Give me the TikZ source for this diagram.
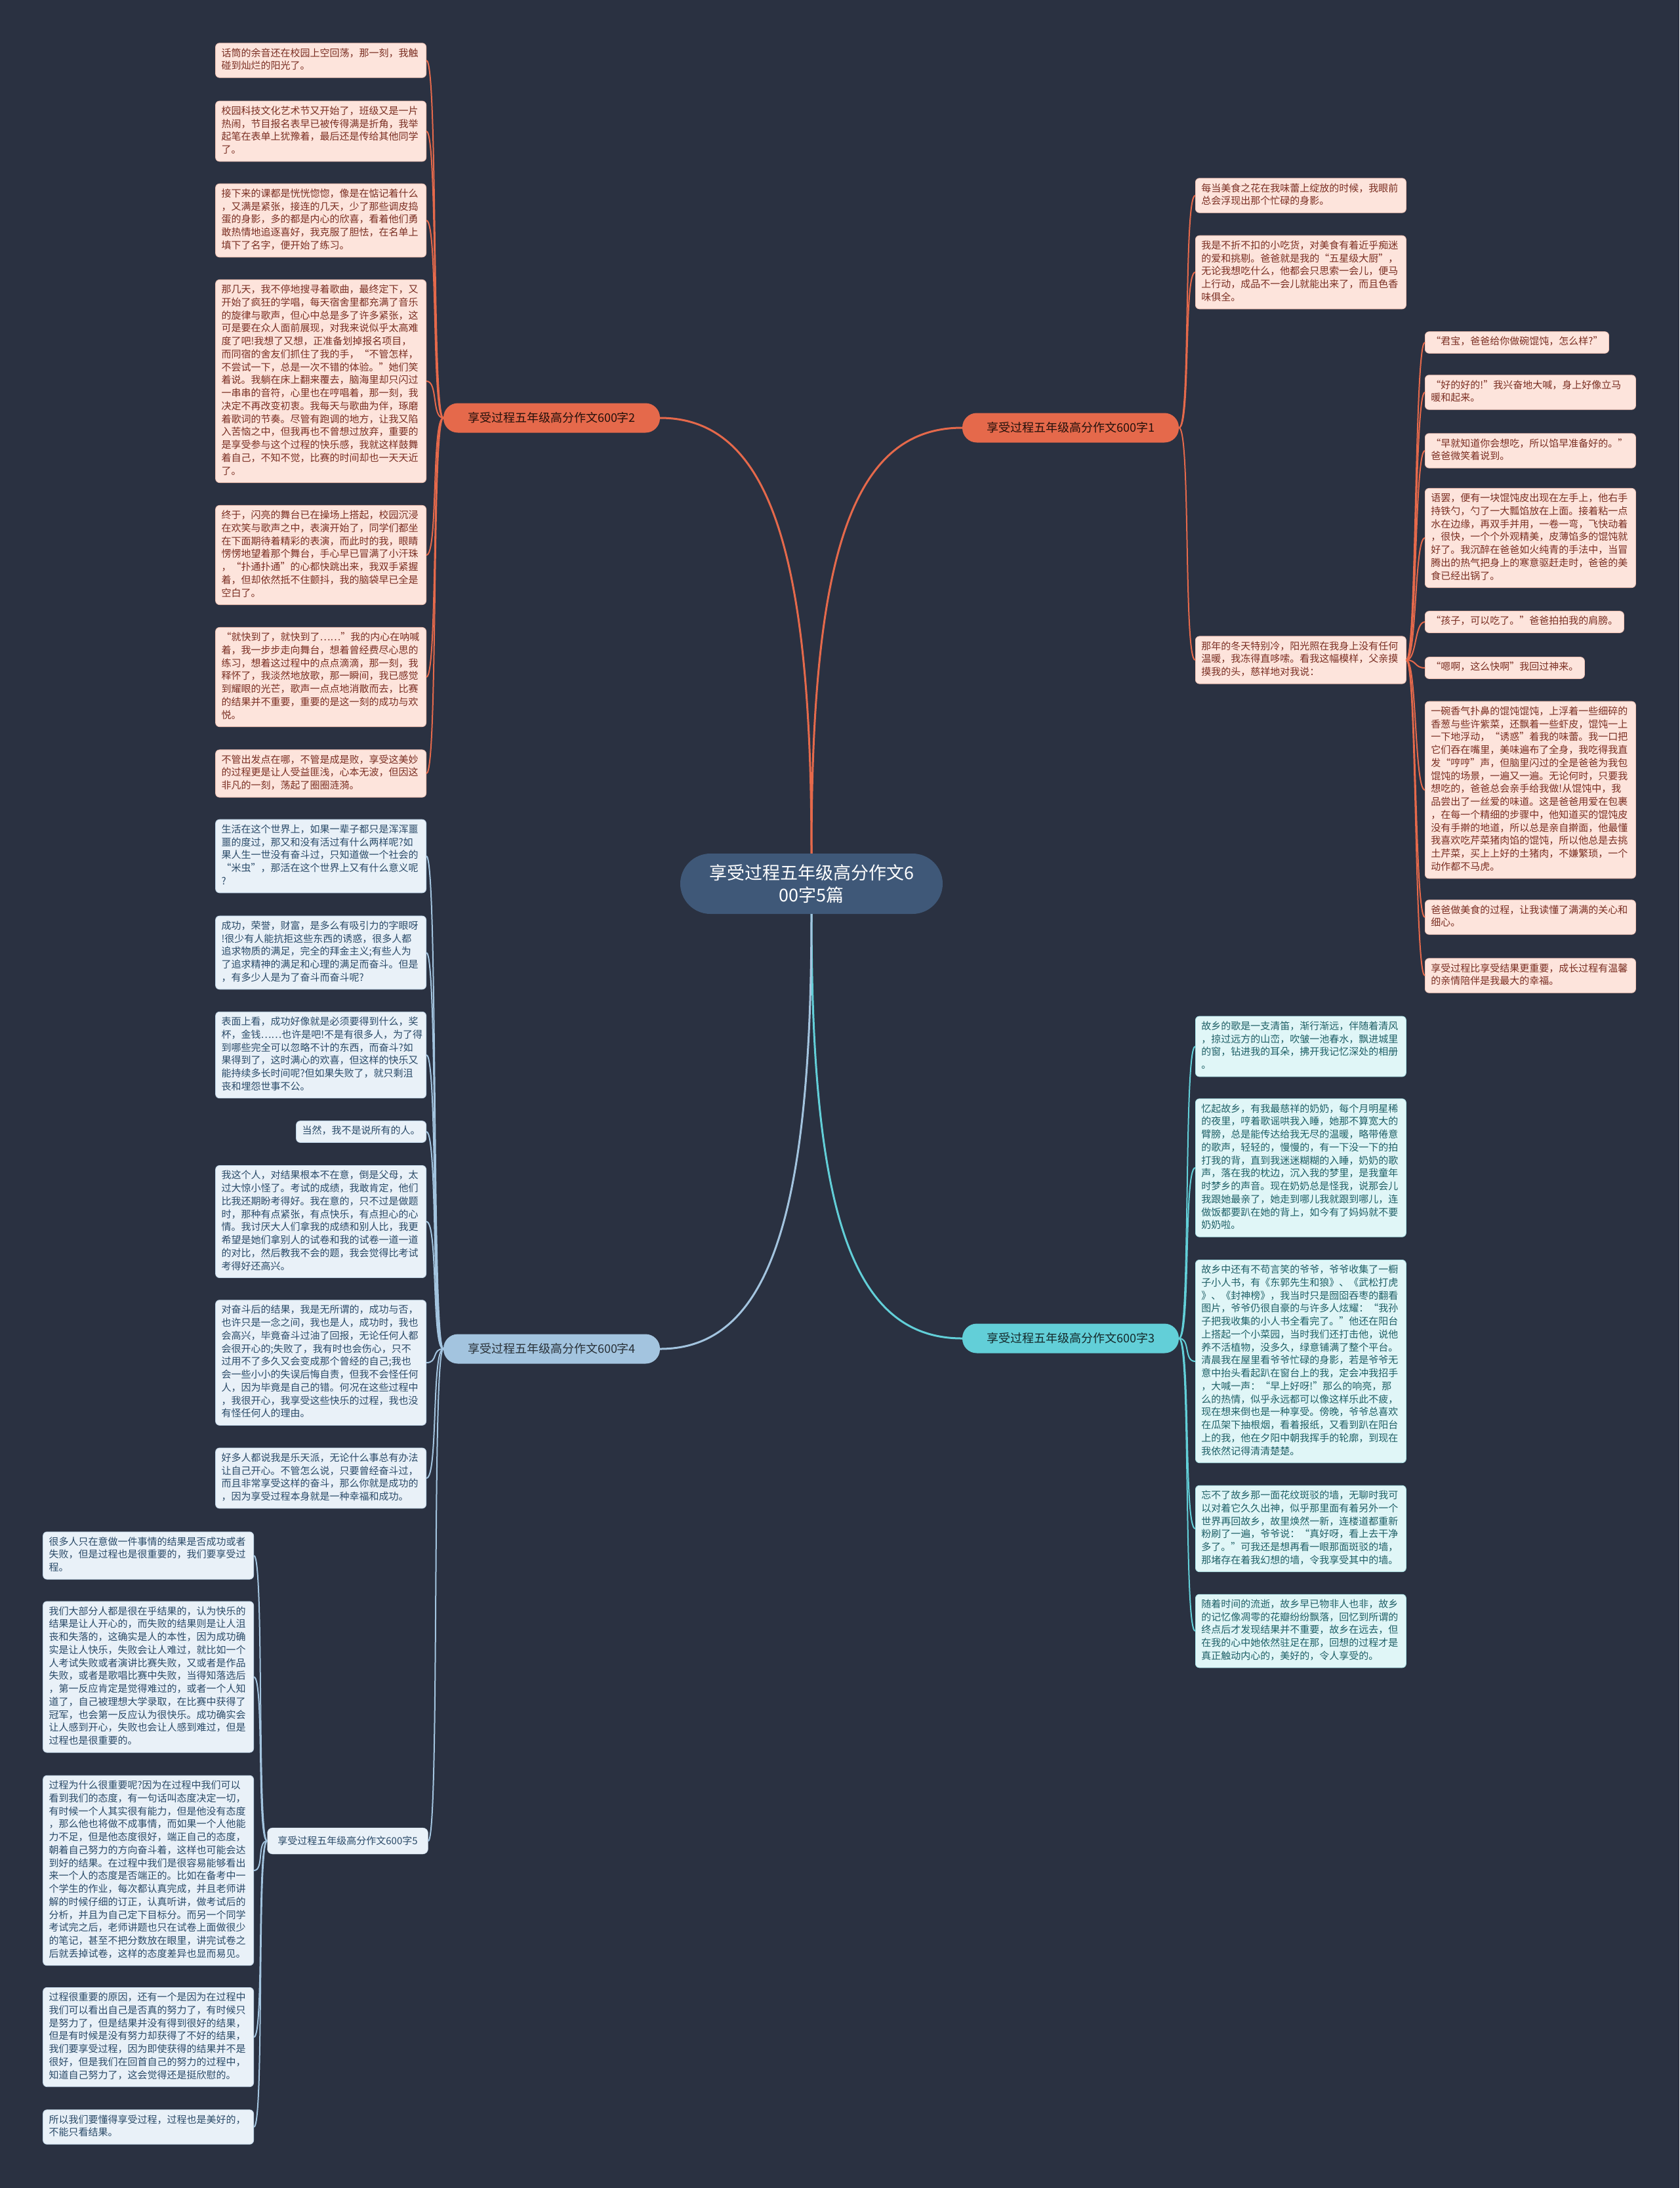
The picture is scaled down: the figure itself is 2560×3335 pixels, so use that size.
\documentclass[tikz,border=0pt]{standalone}
\usepackage{fontspec}
\setmainfont{Noto Sans CJK SC}
\definecolor{cBg}{HTML}{2A3141}
\definecolor{cCenter}{HTML}{3F5878}
\definecolor{cOr}{HTML}{E5694B}
\definecolor{cOrFill}{HTML}{FDE4DC}
\definecolor{cOrEdge}{HTML}{F2C3B5}
\definecolor{cOrText}{HTML}{7A2E22}
\definecolor{cTl}{HTML}{62CFD8}
\definecolor{cTlFill}{HTML}{E0F6F7}
\definecolor{cTlEdge}{HTML}{A8E2E6}
\definecolor{cTlText}{HTML}{1E5F66}
\definecolor{cBl}{HTML}{A3C4DF}
\definecolor{cBlFill}{HTML}{E9F1F8}
\definecolor{cBlEdge}{HTML}{BFD4E6}
\definecolor{cBlText}{HTML}{2A4A68}
\newcommand\leaffont{\fontsize{15}{19.75}\selectfont}
\begin{document}
\begin{tikzpicture}[x=1pt,y=-1pt,
  leafbase/.style={rounded corners=6pt, inner xsep=9pt, inner ysep=6.5pt, font=\leaffont, align=left, line width=0.8pt, execute at begin node=\strut, execute at end node=\strut},
  wide/.style={text width=303pt},
  orleaf/.style={leafbase, fill=cOrFill, draw=cOrEdge, text=cOrText},
  tlleaf/.style={leafbase, fill=cTlFill, draw=cTlEdge, text=cTlText},
  blleaf/.style={leafbase, fill=cBlFill, draw=cBlEdge, text=cBlText},
  branchbox/.style={rounded corners=22pt, minimum width=330pt, minimum height=45pt, inner sep=4pt, font=\fontsize{18}{22}\selectfont},
  mainline/.style={line width=3pt},
  leafline/.style={line width=2pt},
]
\fill[cBg] (0,0) rectangle (2560,3335);
\useasboundingbox (0,0) rectangle (2560,3335);

% ---------- center and branches ----------
\node[fill=cCenter, text=white, rounded corners=46pt, minimum width=400pt, minimum height=92pt, align=center, font=\fontsize{27}{34}\selectfont] (c) at (1237,1347) {享受过程五年级高分作文6\\00字5篇};
\node[branchbox, fill=cOr, text=black!85!cOr] (b1) at (1632,652) {享受过程五年级高分作文600字1};
\node[branchbox, fill=cOr, text=black!85!cOr] (b2) at (841,637) {享受过程五年级高分作文600字2};
\node[branchbox, fill=cTl, text=black!80!cTl] (b3) at (1632,2040) {享受过程五年级高分作文600字3};
\node[branchbox, fill=cBl, text=black!75!cBl] (b4) at (841,2056) {享受过程五年级高分作文600字4};
\node[rounded corners=8pt, minimum width=245pt, minimum height=40pt, inner sep=3pt, fill=cBlFill, draw=cBlEdge, text=cBlText, font=\fontsize{15}{19}\selectfont] (b5) at (530,2806) {享受过程五年级高分作文600字5};

\draw[mainline, cOr] (c.north) .. controls +(0,-450) and +(-170,0) .. (b1.west);
\draw[mainline, cOr] (c.north) .. controls +(0,-450) and +(170,0) .. (b2.east);
\draw[mainline, cTl] (c.south) .. controls +(0,450) and +(-170,0) .. (b3.west);
\draw[mainline, cBl] (c.south) .. controls +(0,450) and +(170,0) .. (b4.east);

% ---------- branch 2 (left, top) ----------
\node[orleaf, wide, anchor=east] (l2a) at (650,92) {话筒的余音还在校园上空回荡，那一刻，我触\\碰到灿烂的阳光了。};
\node[orleaf, wide, anchor=east] (l2b) at (650,200) {校园科技文化艺术节又开始了，班级又是一片\\热闹，节目报名表早已被传得满是折角，我举\\起笔在表单上犹豫着，最后还是传给其他同学\\了。};
\node[orleaf, wide, anchor=east] (l2c) at (650,336) {接下来的课都是恍恍惚惚，像是在惦记着什么\\，又满是紧张，接连的几天，少了那些调皮捣\\蛋的身影，多的都是内心的欣喜，看着他们勇\\敢热情地追逐喜好，我克服了胆怯，在名单上\\填下了名字，便开始了练习。};
\node[orleaf, wide, anchor=east] (l2d) at (650,581) {那几天，我不停地搜寻着歌曲，最终定下，又\\开始了疯狂的学唱，每天宿舍里都充满了音乐\\的旋律与歌声，但心中总是多了许多紧张，这\\可是要在众人面前展现，对我来说似乎太高难\\度了吧!我想了又想，正准备划掉报名项目，\\而同宿的舍友们抓住了我的手，“不管怎样，\\不尝试一下，总是一次不错的体验。”她们笑\\着说。我躺在床上翻来覆去，脑海里却只闪过\\一串串的音符，心里也在哼唱着，那一刻，我\\决定不再改变初衷。我每天与歌曲为伴，琢磨\\着歌词的节奏。尽管有跑调的地方，让我又陷\\入苦恼之中，但我再也不曾想过放弃，重要的\\是享受参与这个过程的快乐感，我就这样鼓舞\\着自己，不知不觉，比赛的时间却也一天天近\\了。};
\node[orleaf, wide, anchor=east] (l2e) at (650,846) {终于，闪亮的舞台已在操场上搭起，校园沉浸\\在欢笑与歌声之中，表演开始了，同学们都坐\\在下面期待着精彩的表演，而此时的我，眼睛\\愣愣地望着那个舞台，手心早已冒满了小汗珠\\，“扑通扑通”的心都快跳出来，我双手紧握\\着，但却依然抵不住颤抖，我的脑袋早已全是\\空白了。};
\node[orleaf, wide, anchor=east] (l2f) at (650,1032) {“就快到了，就快到了……”我的内心在呐喊\\着，我一步步走向舞台，想着曾经费尽心思的\\练习，想着这过程中的点点滴滴，那一刻，我\\释怀了，我淡然地放歌，那一瞬间，我已感觉\\到耀眼的光芒，歌声一点点地消散而去，比赛\\的结果并不重要，重要的是这一刻的成功与欢\\悦。};
\node[orleaf, wide, anchor=east] (l2g) at (650,1179) {不管出发点在哪，不管是成是败，享受这美妙\\的过程更是让人受益匪浅，心本无波，但因这\\非凡的一刻，荡起了圈圈涟漪。};
\foreach \n in {l2a,l2b,l2c,l2d,l2e,l2f,l2g}
  \draw[leafline, cOr] (b2.west) .. controls +(-18,0) and +(18,0) .. (\n.east);

% ---------- branch 1 (right, top) ----------
\node[orleaf, wide, anchor=west] (r1a) at (1822,298) {每当美食之花在我味蕾上绽放的时候，我眼前\\总会浮现出那个忙碌的身影。};
\node[orleaf, wide, anchor=west] (r1b) at (1822,415) {我是不折不扣的小吃货，对美食有着近乎痴迷\\的爱和挑剔。爸爸就是我的“五星级大厨”，\\无论我想吃什么，他都会只思索一会儿，便马\\上行动，成品不一会儿就能出来了，而且色香\\味俱全。};
\node[orleaf, wide, anchor=west] (r1c) at (1822,1006) {那年的冬天特别冷，阳光照在我身上没有任何\\温暖，我冻得直哆嗦。看我这幅模样，父亲摸\\摸我的头，慈祥地对我说：};
\foreach \n in {r1a,r1b,r1c}
  \draw[leafline, cOr] (b1.east) .. controls +(18,0) and +(-18,0) .. (\n.west);

\node[orleaf, anchor=west] (k1) at (2172,522) {“君宝，爸爸给你做碗馄饨，怎么样?”};
\node[orleaf, wide, anchor=west] (k2) at (2172,598) {“好的好的!”我兴奋地大喊，身上好像立马\\暖和起来。};
\node[orleaf, wide, anchor=west] (k3) at (2172,687) {“早就知道你会想吃，所以馅早准备好的。”\\爸爸微笑着说到。};
\node[orleaf, wide, anchor=west] (k4) at (2172,820) {语罢，便有一块馄饨皮出现在左手上，他右手\\持铁勺，勺了一大瓢馅放在上面。接着粘一点\\水在边缘，再双手并用，一卷一弯，飞快动着\\，很快，一个个外观精美，皮薄馅多的馄饨就\\好了。我沉醉在爸爸如火纯青的手法中，当冒\\腾出的热气把身上的寒意驱赶走时，爸爸的美\\食已经出锅了。};
\node[orleaf, anchor=west] (k5) at (2172,948) {“孩子，可以吃了。”爸爸拍拍我的肩膀。};
\node[orleaf, anchor=west] (k6) at (2172,1018) {“嗯啊，这么快啊”我回过神来。};
\node[orleaf, wide, anchor=west] (k7) at (2172,1204) {一碗香气扑鼻的馄饨馄饨，上浮着一些细碎的\\香葱与些许紫菜，还飘着一些虾皮，馄饨一上\\一下地浮动，“诱惑”着我的味蕾。我一口把\\它们吞在嘴里，美味遍布了全身，我吃得我直\\发“哼哼”声，但脑里闪过的全是爸爸为我包\\馄饨的场景，一遍又一遍。无论何时，只要我\\想吃的，爸爸总会亲手给我做!从馄饨中，我\\品尝出了一丝爱的味道。这是爸爸用爱在包裹\\，在每一个精细的步骤中，他知道买的馄饨皮\\没有手擀的地道，所以总是亲自擀面，他最懂\\我喜欢吃芹菜猪肉馅的馄饨，所以他总是去挑\\土芹菜，买上上好的土猪肉，不嫌繁琐，一个\\动作都不马虎。};
\node[orleaf, wide, anchor=west] (k8) at (2172,1398) {爸爸做美食的过程，让我读懂了满满的关心和\\细心。};
\node[orleaf, wide, anchor=west] (k9) at (2172,1487) {享受过程比享受结果更重要，成长过程有温馨\\的亲情陪伴是我最大的幸福。};
\foreach \n in {k1,k2,k3,k4,k5,k6,k7,k8,k9}
  \draw[leafline, cOr] (r1c.east) .. controls +(16,0) and +(-16,0) .. (\n.west);

% ---------- branch 3 (right, bottom) ----------
\node[tlleaf, wide, anchor=west] (r3a) at (1822,1595) {故乡的歌是一支清笛，渐行渐远，伴随着清风\\，掠过远方的山峦，吹皱一池春水，飘进城里\\的窗，钻进我的耳朵，拂开我记忆深处的相册\\。};
\node[tlleaf, wide, anchor=west] (r3b) at (1822,1780) {忆起故乡，有我最慈祥的奶奶，每个月明星稀\\的夜里，哼着歌谣哄我入睡，她那不算宽大的\\臂膀，总是能传达给我无尽的温暖，略带倦意\\的歌声，轻轻的，慢慢的，有一下没一下的拍\\打我的背，直到我迷迷糊糊的入睡，奶奶的歌\\声，落在我的枕边，沉入我的梦里，是我童年\\时梦乡的声音。现在奶奶总是怪我，说那会儿\\我跟她最亲了，她走到哪儿我就跟到哪儿，连\\做饭都要趴在她的背上，如今有了妈妈就不要\\奶奶啦。};
\node[tlleaf, wide, anchor=west] (r3c) at (1822,2075) {故乡中还有不苟言笑的爷爷，爷爷收集了一橱\\子小人书，有《东郭先生和狼》、《武松打虎\\》、《封神榜》，我当时只是囫囵吞枣的翻看\\图片，爷爷仍很自豪的与许多人炫耀：“我孙\\子把我收集的小人书全看完了。”他还在阳台\\上搭起一个小菜园，当时我们还打击他，说他\\养不活植物，没多久，绿意铺满了整个平台。\\清晨我在屋里看爷爷忙碌的身影，若是爷爷无\\意中抬头看起趴在窗台上的我，定会冲我招手\\，大喊一声：“早上好呀!”那么的响亮，那\\么的热情，似乎永远都可以像这样乐此不疲，\\现在想来倒也是一种享受。傍晚，爷爷总喜欢\\在瓜架下抽根烟，看着报纸，又看到趴在阳台\\上的我，他在夕阳中朝我挥手的轮廓，到现在\\我依然记得清清楚楚。};
\node[tlleaf, wide, anchor=west] (r3d) at (1822,2330) {忘不了故乡那一面花纹斑驳的墙，无聊时我可\\以对着它久久出神，似乎那里面有着另外一个\\世界再回故乡，故里焕然一新，连楼道都重新\\粉刷了一遍，爷爷说：“真好呀，看上去干净\\多了。”可我还是想再看一眼那面斑驳的墙，\\那堵存在着我幻想的墙，令我享受其中的墙。};
\node[tlleaf, wide, anchor=west] (r3e) at (1822,2486) {随着时间的流逝，故乡早已物非人也非，故乡\\的记忆像凋零的花瓣纷纷飘落，回忆到所谓的\\终点后才发现结果并不重要，故乡在远去，但\\在我的心中她依然驻足在那，回想的过程才是\\真正触动内心的，美好的，令人享受的。};
\foreach \n in {r3a,r3b,r3c,r3d,r3e}
  \draw[leafline, cTl] (b3.east) .. controls +(18,0) and +(-18,0) .. (\n.west);

% ---------- branch 4 (left, bottom) ----------
\node[blleaf, wide, anchor=east] (l4a) at (650,1305) {生活在这个世界上，如果一辈子都只是浑浑噩\\噩的度过，那又和没有活过有什么两样呢?如\\果人生一世没有奋斗过，只知道做一个社会的\\“米虫”，那活在这个世界上又有什么意义呢\\?};
\node[blleaf, wide, anchor=east] (l4b) at (650,1452) {成功，荣誉，财富，是多么有吸引力的字眼呀\\!很少有人能抗拒这些东西的诱惑，很多人都\\追求物质的满足，完全的拜金主义;有些人为\\了追求精神的满足和心理的满足而奋斗。但是\\，有多少人是为了奋斗而奋斗呢?};
\node[blleaf, wide, anchor=east] (l4c) at (650,1608) {表面上看，成功好像就是必须要得到什么，奖\\杯，金钱……也许是吧!不是有很多人，为了得\\到哪些完全可以忽略不计的东西，而奋斗?如\\果得到了，这时满心的欢喜，但这样的快乐又\\能持续多长时间呢?但如果失败了，就只剩沮\\丧和埋怨世事不公。};
\node[blleaf, anchor=east] (l4d) at (650,1725) {当然，我不是说所有的人。};
\node[blleaf, wide, anchor=east] (l4e) at (650,1862) {我这个人，对结果根本不在意，倒是父母，太\\过大惊小怪了。考试的成绩，我敢肯定，他们\\比我还期盼考得好。我在意的，只不过是做题\\时，那种有点紧张，有点快乐，有点担心的心\\情。我讨厌大人们拿我的成绩和别人比，我更\\希望是她们拿别人的试卷和我的试卷一道一道\\的对比，然后教我不会的题，我会觉得比考试\\考得好还高兴。};
\node[blleaf, wide, anchor=east] (l4f) at (650,2077) {对奋斗后的结果，我是无所谓的，成功与否，\\也许只是一念之间，我也是人，成功时，我也\\会高兴，毕竟奋斗过油了回报，无论任何人都\\会很开心的;失败了，我有时也会伤心，只不\\过用不了多久又会变成那个曾经的自己;我也\\会一些小小的失误后悔自责，但我不会怪任何\\人，因为毕竟是自己的错。何况在这些过程中\\，我很开心，我享受这些快乐的过程，我也没\\有怪任何人的理由。};
\node[blleaf, wide, anchor=east] (l4g) at (650,2253) {好多人都说我是乐天派，无论什么事总有办法\\让自己开心。不管怎么说，只要曾经奋斗过，\\而且非常享受这样的奋斗，那么你就是成功的\\，因为享受过程本身就是一种幸福和成功。};
\foreach \n in {l4a,l4b,l4c,l4d,l4e,l4f,l4g,b5}
  \draw[leafline, cBl] (b4.west) .. controls +(-18,0) and +(18,0) .. (\n.east);

% ---------- branch 5 (left, lowest) ----------
\node[blleaf, wide, anchor=east] (l5a) at (387,2371) {很多人只在意做一件事情的结果是否成功或者\\失败，但是过程也是很重要的，我们要享受过\\程。};
\node[blleaf, wide, anchor=east] (l5b) at (387,2556) {我们大部分人都是很在乎结果的，认为快乐的\\结果是让人开心的，而失败的结果则是让人沮\\丧和失落的，这确实是人的本性，因为成功确\\实是让人快乐，失败会让人难过，就比如一个\\人考试失败或者演讲比赛失败，又或者是作品\\失败，或者是歌唱比赛中失败，当得知落选后\\，第一反应肯定是觉得难过的，或者一个人知\\道了，自己被理想大学录取，在比赛中获得了\\冠军，也会第一反应认为很快乐。成功确实会\\让人感到开心，失败也会让人感到难过，但是\\过程也是很重要的。};
\node[blleaf, wide, anchor=east] (l5c) at (387,2851) {过程为什么很重要呢?因为在过程中我们可以\\看到我们的态度，有一句话叫态度决定一切，\\有时候一个人其实很有能力，但是他没有态度\\，那么他也将做不成事情，而如果一个人他能\\力不足，但是他态度很好，端正自己的态度，\\朝着自己努力的方向奋斗着，这样也可能会达\\到好的结果。在过程中我们是很容易能够看出\\来一个人的态度是否端正的。比如在备考中一\\个学生的作业，每次都认真完成，并且老师讲\\解的时候仔细的订正，认真听讲，做考试后的\\分析，并且为自己定下目标分。而另一个同学\\考试完之后，老师讲题也只在试卷上面做很少\\的笔记，甚至不把分数放在眼里，讲完试卷之\\后就丢掉试卷，这样的态度差异也显而易见。};
\node[blleaf, wide, anchor=east] (l5d) at (387,3105) {过程很重要的原因，还有一个是因为在过程中\\我们可以看出自己是否真的努力了，有时候只\\是努力了，但是结果并没有得到很好的结果，\\但是有时候是没有努力却获得了不好的结果，\\我们要享受过程，因为即使获得的结果并不是\\很好，但是我们在回首自己的努力的过程中，\\知道自己努力了，这会觉得还是挺欣慰的。};
\node[blleaf, wide, anchor=east] (l5e) at (387,3242) {所以我们要懂得享受过程，过程也是美好的，\\不能只看结果。};
\foreach \n in {l5a,l5b,l5c,l5d,l5e}
  \draw[leafline, cBl] (b5.west) .. controls +(-16,0) and +(16,0) .. (\n.east);
\end{tikzpicture}
\end{document}
